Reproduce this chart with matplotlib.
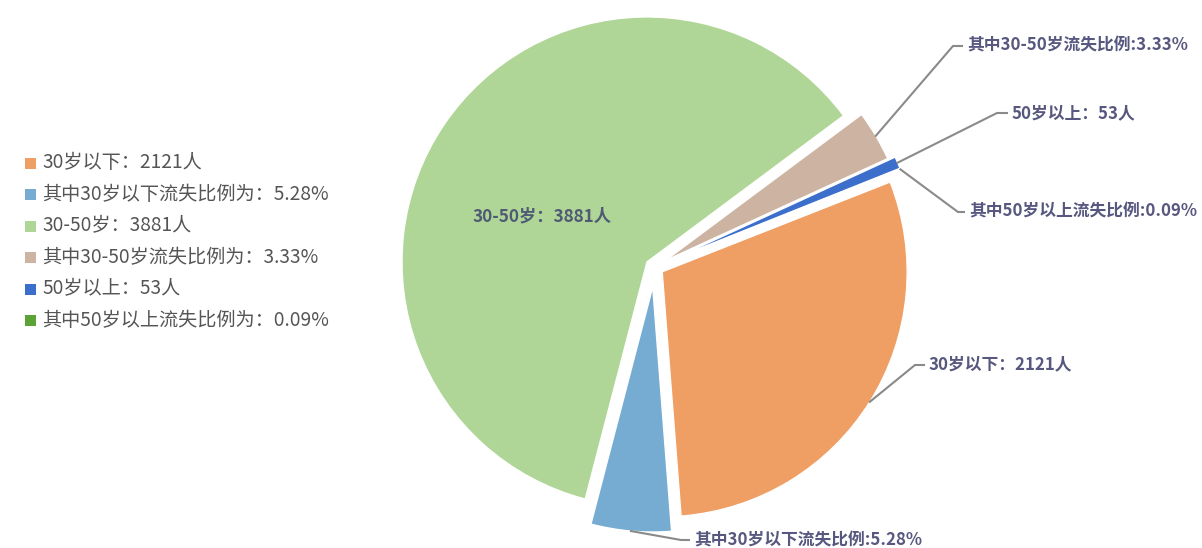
import math
import matplotlib.pyplot as plt
from matplotlib.patches import Rectangle

plt.rcParams['font.family'] = ['Noto Sans CJK SC', 'DejaVu Sans']

# slice sizes (people), the "lost" part split out of each age group
slice_values = [1801, 320, 3679, 202, 48, 5]
slice_colors = ['#EF9F63', '#76ACD2', '#AFD696', '#CDB4A2', '#3B6FCB', '#5BA336']
legend_labels = ['30岁以下：2121人', '其中30岁以下流失比例为：5.28%',
                 '30-50岁：3881人', '其中30-50岁流失比例为：3.33%',
                 '50岁以上：53人', '其中50岁以上流失比例为：0.09%']
pie_labels = ['30岁以下：2121人', '其中30岁以下流失比例:5.28%',
              '30-50岁：3881人', '其中30-50岁流失比例:3.33%',
              '50岁以上：53人', '其中50岁以上流失比例:0.09%']
explode = [0.037, 0.082, 0.037, 0.05, 0.08, 0.08]

W, H = 1202, 548
CX, CY, R = 654.5, 267, 245   # pie centre and radius in pixels


def px(x, y):
    # pixel position (from top-left) -> data units (pie radius = 1)
    return (x - CX) / R, (CY - y) / R


fig = plt.figure(figsize=(W / 100, H / 100), dpi=100)
ax = fig.add_axes([0, 0, 1, 1])
wedges, _ = ax.pie(slice_values, colors=slice_colors, explode=explode,
                   startangle=21.5, counterclock=False, radius=1,
                   wedgeprops=dict(edgecolor='white', linewidth=1))
ax.set_xlim(-CX / R, (W - CX) / R)
ax.set_ylim(-(H - CY) / R, CY / R)
ax.set_aspect('equal')
ax.axis('off')

label_color = '#57577f'
line_color = '#8a8a8a'

# outside labels: (elbow pixel, text-start pixel)
outside = {
    0: ((915, 365), (929, 364)),
    1: ((681, 540), (694, 541)),
    3: ((953, 46), (967, 46)),
    4: ((997, 113), (1012, 113)),
    5: ((958, 212), (969, 212)),
}
for i, (elbow, tpos) in outside.items():
    w = wedges[i]
    tm = math.radians((w.theta1 + w.theta2) / 2)
    sx = w.center[0] + w.r * math.cos(tm)
    sy = w.center[1] + w.r * math.sin(tm)
    ex, ey = px(*elbow)
    hx, _ = px(tpos[0] - 5, tpos[1])
    ax.plot([sx, ex, hx], [sy, ey, ey], color=line_color, lw=1.5,
            solid_joinstyle='miter', clip_on=False)
    tx, ty = px(*tpos)
    ax.text(tx, ty, pie_labels[i], ha='left', va='center', fontsize=12.1,
            fontweight='bold', color=label_color)

# inside label of the big slice
ix, iy = px(542, 216)
ax.text(ix, iy, pie_labels[2], ha='center', va='center', fontsize=12.4,
        fontweight='bold', color='#4f5a74')

# legend
for k, (lab, col) in enumerate(zip(legend_labels, slice_colors)):
    yk = 163 + 31.5 * k
    x0, y0 = px(25, yk + 5.5)
    ax.add_patch(Rectangle((x0, y0), 11 / R, 11 / R, facecolor=col,
                           edgecolor='none', clip_on=False))
    tx, ty = px(42, yk)
    ax.text(tx, ty, lab, ha='left', va='center', fontsize=13.8, color='#555555')

fig.savefig('out.png', dpi=100)
